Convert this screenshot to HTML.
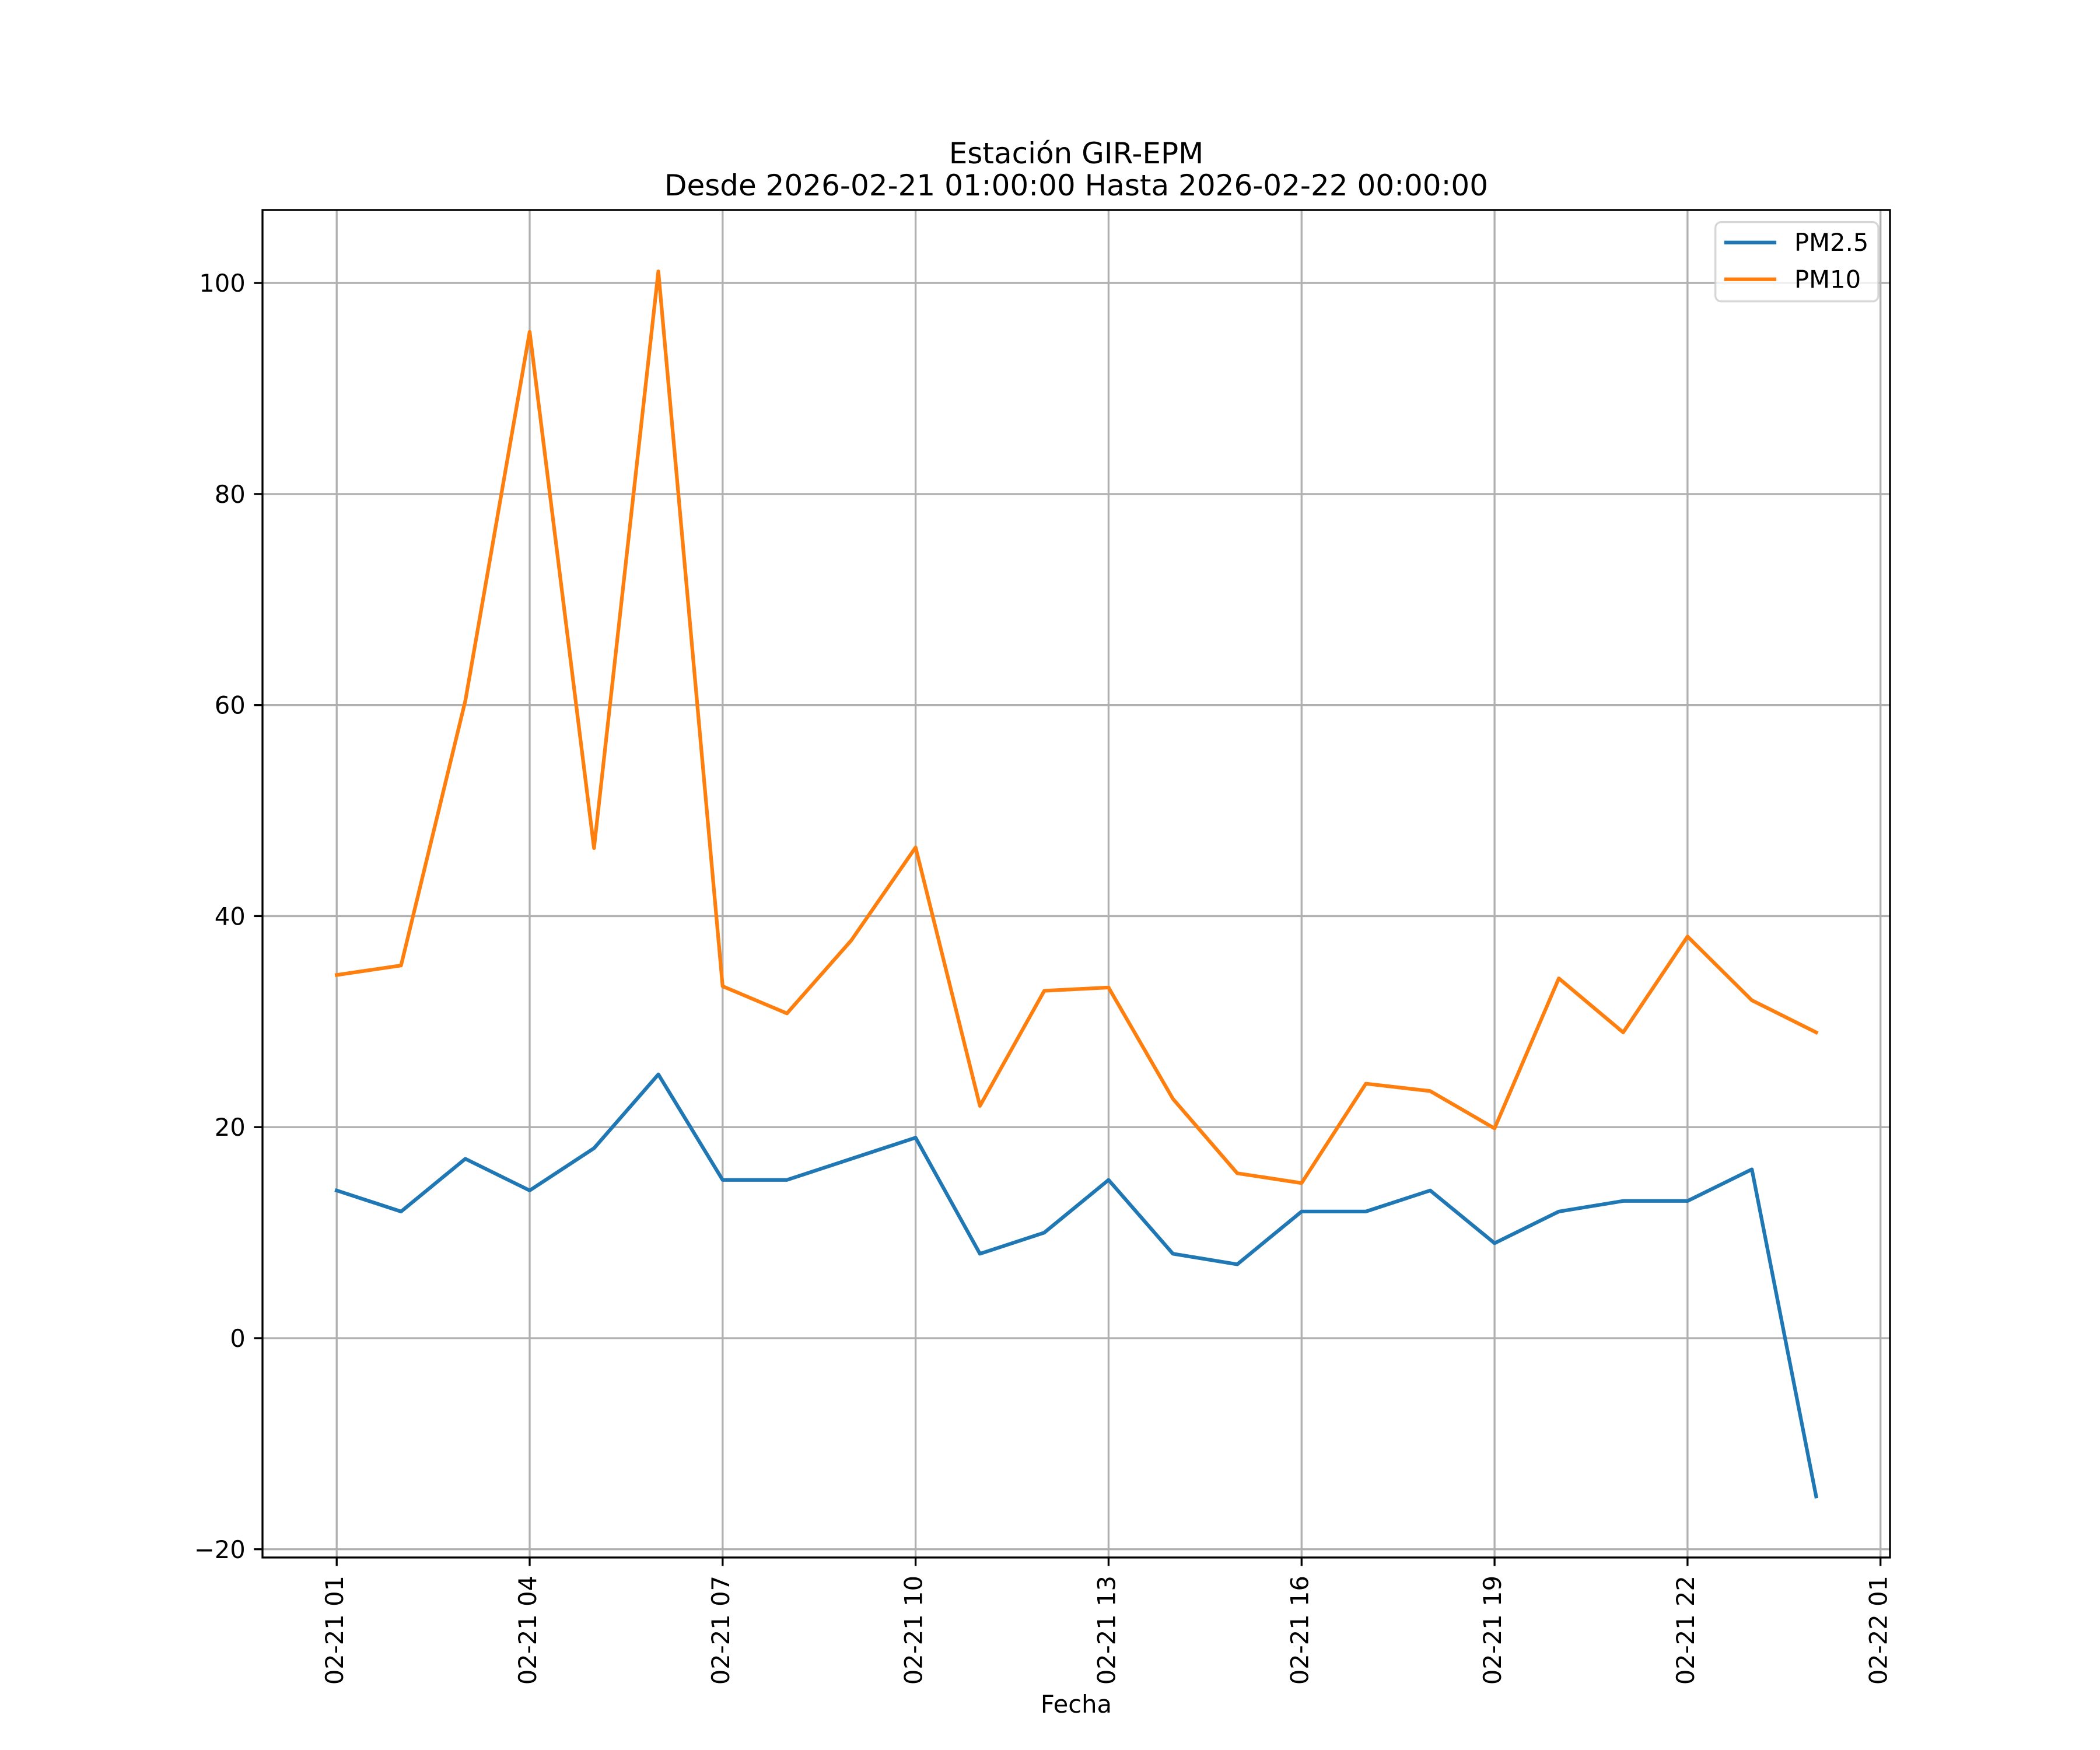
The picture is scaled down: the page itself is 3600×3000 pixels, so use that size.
<!DOCTYPE html>
<html>
<head>
<meta charset="utf-8">
<style>
html,body{margin:0;padding:0;background:#fff;}
svg{display:block;}
text{font-family:"DejaVu Sans","Liberation Sans",sans-serif;fill:#000;}
</style>
</head>
<body>
<svg width="3600" height="3000" viewBox="0 0 3600 3000" xmlns="http://www.w3.org/2000/svg">
<rect x="0" y="0" width="3600" height="3000" fill="#fff"/>
<!-- grid -->
<g stroke="#b0b0b0" stroke-width="3.33" fill="none">
<line x1="577.2" y1="360" x2="577.2" y2="2670"/>
<line x1="908.0" y1="360" x2="908.0" y2="2670"/>
<line x1="1238.8" y1="360" x2="1238.8" y2="2670"/>
<line x1="1569.6" y1="360" x2="1569.6" y2="2670"/>
<line x1="1900.4" y1="360" x2="1900.4" y2="2670"/>
<line x1="2231.3" y1="360" x2="2231.3" y2="2670"/>
<line x1="2562.1" y1="360" x2="2562.1" y2="2670"/>
<line x1="2892.9" y1="360" x2="2892.9" y2="2670"/>
<line x1="3223.7" y1="360" x2="3223.7" y2="2670"/>
<line x1="450" y1="485.1" x2="3240" y2="485.1"/>
<line x1="450" y1="846.9" x2="3240" y2="846.9"/>
<line x1="450" y1="1208.7" x2="3240" y2="1208.7"/>
<line x1="450" y1="1570.4" x2="3240" y2="1570.4"/>
<line x1="450" y1="1932.2" x2="3240" y2="1932.2"/>
<line x1="450" y1="2294.0" x2="3240" y2="2294.0"/>
<line x1="450" y1="2655.8" x2="3240" y2="2655.8"/>
</g>
<!-- data -->
<polyline fill="none" stroke="#1f77b4" stroke-width="6.25" stroke-linecap="square" stroke-linejoin="round"
points="577.2,2040.8 687.5,2076.9 797.7,1986.5 908.0,2040.8 1018.3,1968.4 1128.6,1841.8 1238.8,2022.7 1349.1,2022.7 1459.4,1986.5 1569.6,1950.3 1679.9,2149.3 1790.2,2113.1 1900.4,2022.7 2010.7,2149.3 2121.0,2167.4 2231.3,2076.9 2341.5,2076.9 2451.8,2040.8 2562.1,2131.2 2672.3,2076.9 2782.6,2058.8 2892.9,2058.8 3003.2,2004.6 3113.4,2565.3"/>
<polyline fill="none" stroke="#ff7f0e" stroke-width="6.25" stroke-linecap="square" stroke-linejoin="round"
points="577.2,1671.4 687.5,1655.1 797.7,1201.4 908.0,568.8 1018.3,1453.9 1128.6,465.2 1238.8,1690.7 1349.1,1737.2 1459.4,1612.0 1569.6,1452.7 1679.9,1895.9 1790.2,1698.5 1900.4,1692.9 2010.7,1883.7 2121.0,2011.3 2231.3,2028.1 2341.5,1857.7 2451.8,1870.4 2562.1,1934.4 2672.3,1677.2 2782.6,1769.8 2892.9,1605.4 3003.2,1714.8 3113.4,1769.8"/>
<!-- spines -->
<rect x="450" y="360" width="2790" height="2310" fill="none" stroke="#000" stroke-width="3.33" stroke-linejoin="miter"/>
<!-- ticks -->
<g stroke="#000" stroke-width="3.33">
<line x1="435.4" y1="485.1" x2="450" y2="485.1"/>
<line x1="435.4" y1="846.9" x2="450" y2="846.9"/>
<line x1="435.4" y1="1208.7" x2="450" y2="1208.7"/>
<line x1="435.4" y1="1570.4" x2="450" y2="1570.4"/>
<line x1="435.4" y1="1932.2" x2="450" y2="1932.2"/>
<line x1="435.4" y1="2294.0" x2="450" y2="2294.0"/>
<line x1="435.4" y1="2655.8" x2="450" y2="2655.8"/>
<line x1="577.2" y1="2670" x2="577.2" y2="2684.6"/>
<line x1="908.0" y1="2670" x2="908.0" y2="2684.6"/>
<line x1="1238.8" y1="2670" x2="1238.8" y2="2684.6"/>
<line x1="1569.6" y1="2670" x2="1569.6" y2="2684.6"/>
<line x1="1900.4" y1="2670" x2="1900.4" y2="2684.6"/>
<line x1="2231.3" y1="2670" x2="2231.3" y2="2684.6"/>
<line x1="2562.1" y1="2670" x2="2562.1" y2="2684.6"/>
<line x1="2892.9" y1="2670" x2="2892.9" y2="2684.6"/>
<line x1="3223.7" y1="2670" x2="3223.7" y2="2684.6"/>
</g>
<!-- y tick labels -->
<g font-size="41.67" text-anchor="end">
<text x="420.8" y="500.1">100</text>
<text x="420.8" y="861.9">80</text>
<text x="420.8" y="1223.7">60</text>
<text x="420.8" y="1585.4">40</text>
<text x="420.8" y="1947.2">20</text>
<text x="420.8" y="2309.0">0</text>
<text x="420.8" y="2670.8">−20</text>
</g>
<!-- x tick labels -->
<g font-size="41.67" text-anchor="end">
<text transform="translate(588.2,2701) rotate(-90)">02-21 01</text>
<text transform="translate(919.0,2701) rotate(-90)">02-21 04</text>
<text transform="translate(1249.8,2701) rotate(-90)">02-21 07</text>
<text transform="translate(1580.6,2701) rotate(-90)">02-21 10</text>
<text transform="translate(1911.4,2701) rotate(-90)">02-21 13</text>
<text transform="translate(2242.3,2701) rotate(-90)">02-21 16</text>
<text transform="translate(2573.1,2701) rotate(-90)">02-21 19</text>
<text transform="translate(2903.9,2701) rotate(-90)">02-21 22</text>
<text transform="translate(3234.7,2701) rotate(-90)">02-22 01</text>
</g>
<!-- axis label -->
<text x="1845" y="2936" font-size="41.67" text-anchor="middle">Fecha</text>
<!-- title -->
<text x="1845" y="280" font-size="50" text-anchor="middle">Estación GIR-EPM</text>
<text x="1845" y="335" font-size="50" text-anchor="middle">Desde 2026-02-21 01:00:00 Hasta 2026-02-22 00:00:00</text>
<!-- legend -->
<rect x="2940.7" y="380.7" width="279.3" height="136" rx="10" ry="10" fill="#fff" fill-opacity="0.8" stroke="#cccccc" stroke-opacity="0.8" stroke-width="3.33"/>
<line x1="2959" y1="415.7" x2="3042" y2="415.7" stroke="#1f77b4" stroke-width="6.25" stroke-linecap="square"/>
<line x1="2959" y1="478.7" x2="3042" y2="478.7" stroke="#ff7f0e" stroke-width="6.25" stroke-linecap="square"/>
<text x="3076" y="430" font-size="41.67">PM2.5</text>
<text x="3076" y="493.3" font-size="41.67">PM10</text>
</svg>
</body>
</html>
